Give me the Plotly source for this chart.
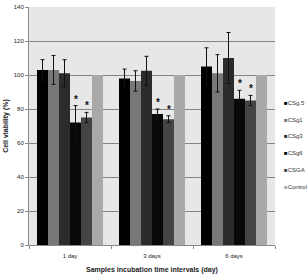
import plotly.graph_objects as go

categories = ["1 day", "3 days", "6 days"]
series_names = ["CSg.5", "CSg1", "CSg3", "CSg6", "CSGA", "Control"]
colors = ["#000000", "#787878", "#2b2b2b", "#080808", "#444444", "#a9a9a9"]
values = [
    [103, 98, 105],
    [103, 96.5, 101],
    [101, 102.5, 110],
    [72, 77, 86],
    [75, 74, 85],
    [100, 100, 100],
]
errors = [
    [6, 5.5, 11],
    [8.5, 6, 11],
    [8, 8.5, 15],
    [10, 3, 5],
    [3, 2, 3],
    [0, 0, 0],
]
# significance stars: (series index, category index)
stars = [(3, 0), (4, 0), (3, 1), (4, 1), (3, 2), (4, 2)]

bargap = 0.195
n = len(series_names)

fig = go.Figure()
for i, name in enumerate(series_names):
    fig.add_trace(go.Bar(
        x=categories, y=values[i], name=name, showlegend=False,
        marker=dict(color=colors[i], line=dict(width=0)),
        error_y=dict(type="data", array=errors[i], visible=any(e > 0 for e in errors[i]),
                     color="#111111", thickness=1, width=2),
    ))

for si, ci in stars:
    xpos = ci + (si - (n - 1) / 2) * (1 - bargap) / n
    fig.add_annotation(x=xpos, y=values[si][ci] + errors[si][ci], text="<b>*</b>",
                       showarrow=False, yanchor="bottom", xanchor="center", yshift=-1,
                       font=dict(size=10, color="#111111", family="Liberation Sans"))

# legend drawn as text entries on the right
leg_top, leg_step = 0.597, 0.0705
for i, name in enumerate(series_names):
    fig.add_annotation(
        xref="paper", yref="paper", x=1.03, y=leg_top - i * leg_step,
        xanchor="left", yanchor="middle", showarrow=False,
        text=f"<span style='color:{colors[i]}'>■</span>{name}",
        font=dict(size=6, color="#333333", family="Liberation Sans Narrow, Liberation Sans"),
    )

fig.update_layout(
    width=308, height=274,
    margin=dict(l=29, r=33, t=7, b=29),
    barmode="group", bargap=bargap, bargroupgap=0,
    plot_bgcolor="#e7e7e7", paper_bgcolor="white",
    font=dict(family="Liberation Sans", size=6, color="#222222"),
    showlegend=False,
)
fig.update_yaxes(range=[0, 140], dtick=20, showgrid=True, gridcolor="#858585", gridwidth=1,
                 showline=True, linecolor="#888888", ticks="outside", ticklen=3,
                 tickcolor="#888888", tickfont=dict(size=6), automargin=False,
                 title=dict(text="<b>Cell viability (%)</b>", font=dict(size=7), standoff=4),
                 zeroline=False)
fig.update_xaxes(showline=True, linecolor="#888888", ticks="outside", ticklen=3,
                 tickson="boundaries", tickcolor="#888888", tickfont=dict(size=6),
                 ticklabelstandoff=5, range=[-0.5, 2.5], automargin=False,
                 title=dict(text="<b>Samples incubation time intervals (day)</b>",
                            font=dict(size=7), standoff=12))
fig.write_html("out.html")
